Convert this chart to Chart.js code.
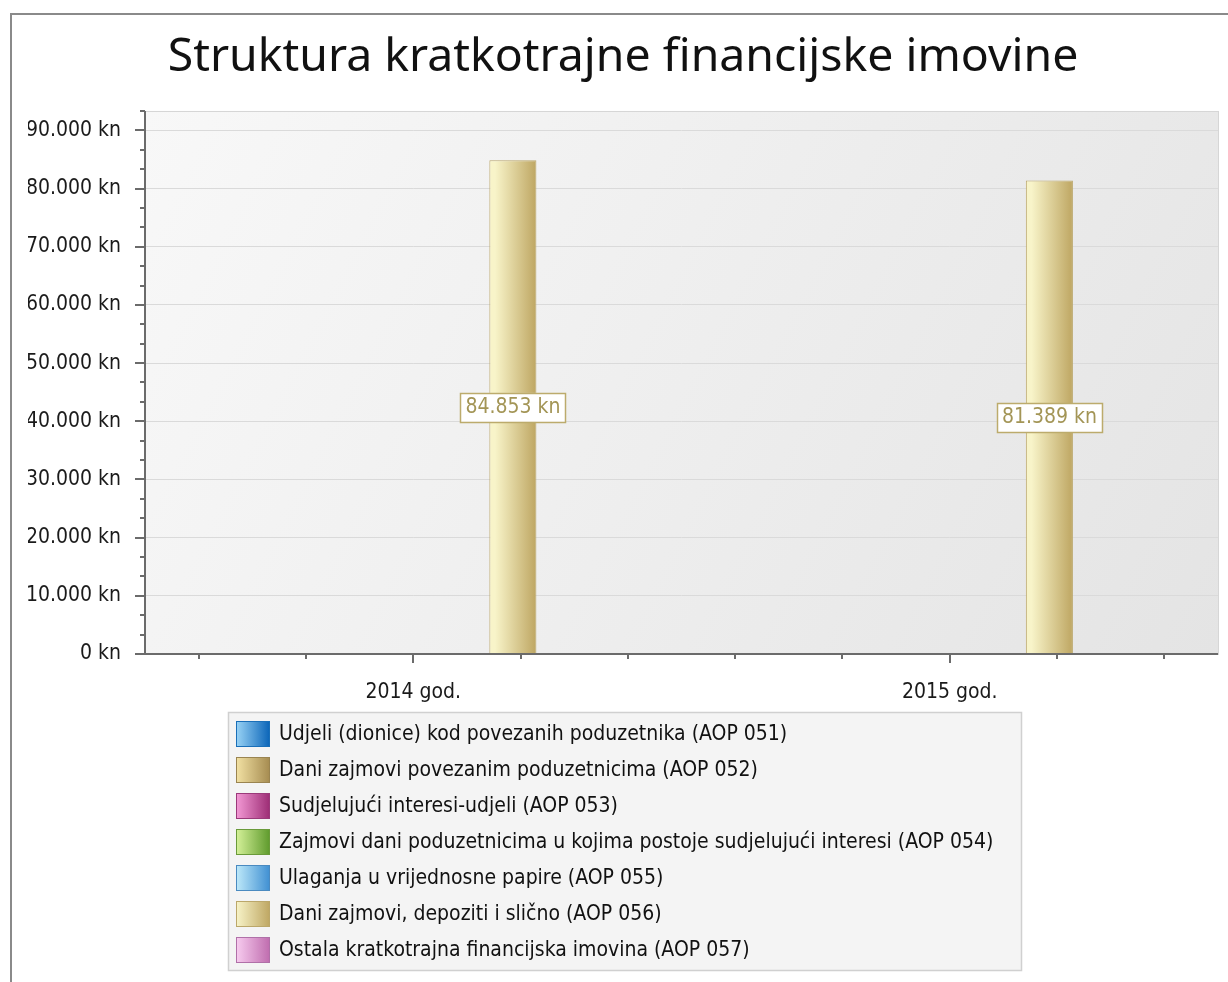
<!DOCTYPE html>
<html>
<head>
<meta charset="utf-8">
<script src="https://cdn.jsdelivr.net/npm/chart.js@4/dist/chart.umd.min.js"></script>
<style>
  html, body { margin: 0; padding: 0; background: #fff; }
  #wrap { width: 1228px; height: 982px; }
</style>
</head>
<body>
<div id="wrap"><canvas id="struktura" width="1228" height="982"></canvas></div>
<script>
// categories and series
var categories = ['2014 god.', '2015 god.'];
var seriesNames = [
  'Udjeli (dionice) kod povezanih poduzetnika (AOP 051)',
  'Dani zajmovi povezanim poduzetnicima (AOP 052)',
  'Sudjelujući interesi-udjeli (AOP 053)',
  'Zajmovi dani poduzetnicima u kojima postoje sudjelujući interesi (AOP 054)',
  'Ulaganja u vrijednosne papire (AOP 055)',
  'Dani zajmovi, depoziti i slično (AOP 056)',
  'Ostala kratkotrajna financijska imovina (AOP 057)'
];
var aop051 = [0, 0];
var aop052 = [0, 0];
var aop053 = [0, 0];
var aop054 = [0, 0];
var aop055 = [0, 0];
var aop056 = [84853, 81389];
var aop057 = [0, 0];
var yTicks = [0, 10000, 20000, 30000, 40000, 50000, 60000, 70000, 80000, 90000];

// light -> dark gradient stops per series
var seriesColors = [
  ['#9ad4f6', '#0a64b8'],
  ['#f3e2a4', '#a58b50'],
  ['#f49ad6', '#9c2c74'],
  ['#d6f29a', '#5e9a2c'],
  ['#bfeafa', '#3f8fd2'],
  ['#f8f4c9', '#bea662'],
  ['#f8cdf0', '#bf6cae']
];
var borderColors = ['#1a6fb8', '#9a8450', '#9a3a7a', '#6a9a3a', '#4a8ac0', '#bba76a', '#b070a8'];

var CAT_PCT = 0.65, BAR_PCT = 0.945;
var labelFont = "21px 'DejaVu Sans Condensed', 'Liberation Sans', sans-serif";

function fmt(n) {
  return String(Math.round(n)).replace(/\B(?=(\d{3})+(?!\d))/g, '.');
}

function barFill(ctx) {
  var chart = ctx.chart;
  var stops = seriesColors[ctx.datasetIndex];
  var xs = chart.scales.x;
  if (!chart.chartArea || !xs || ctx.dataIndex === undefined) return stops[1];
  var cw = xs.width / categories.length;
  var slot = cw * CAT_PCT / seriesNames.length;
  var cx = xs.getPixelForValue(ctx.dataIndex) + (ctx.datasetIndex - (seriesNames.length - 1) / 2) * slot;
  var half = slot * BAR_PCT / 2;
  var g = chart.ctx.createLinearGradient(cx - half, 0, cx + half, 0);
  g.addColorStop(0, stops[0]);
  g.addColorStop(0.12, stops[0]);
  g.addColorStop(1, stops[1]);
  return g;
}

var values = [aop051, aop052, aop053, aop054, aop055, aop056, aop057];
var datasets = [];
for (var i = 0; i < seriesNames.length; i++) {
  datasets.push({
    label: seriesNames[i],
    data: values[i],
    backgroundColor: barFill,
    borderColor: borderColors[i],
    borderWidth: 1,
    borderSkipped: 'bottom'
  });
}

var decor = {
  id: 'decor',
  beforeDraw: function(chart) {
    var c = chart.ctx, a = chart.chartArea;
    c.save();
    // outer frame
    c.strokeStyle = '#8a8a8a';
    c.lineWidth = 2;
    c.strokeRect(11, 14, 1240, 1000);
    // plot background
    var g = c.createLinearGradient(a.left, a.top, a.right, a.bottom);
    g.addColorStop(0, '#f8f8f8');
    g.addColorStop(1, '#e4e4e4');
    c.fillStyle = g;
    c.fillRect(a.left, a.top, a.right - a.left, a.bottom - a.top);
    c.strokeStyle = '#d6d6d6';
    c.lineWidth = 1;
    c.strokeRect(a.left + 0.5, a.top + 0.5, a.right - a.left, a.bottom - a.top);
    c.restore();
  },
  afterDatasetsDraw: function(chart) {
    var c = chart.ctx, a = chart.chartArea;
    var ys = chart.scales.y, xs = chart.scales.x;
    c.save();
    // axes
    c.strokeStyle = '#6b6b6b';
    c.lineWidth = 2;
    c.beginPath();
    c.moveTo(a.left, a.top);
    c.lineTo(a.left, a.bottom);
    c.moveTo(a.left - 10, a.bottom);
    c.lineTo(a.right, a.bottom);
    // y ticks, major every 10000, minor every third of that
    var step = 10000 / 3;
    for (var k = 0; k * step <= ys.max + 1; k++) {
      var y = Math.round(ys.getPixelForValue(k * step));
      var len = (k % 3 === 0) ? 10 : 5;
      c.moveTo(a.left - len, y);
      c.lineTo(a.left, y);
    }
    // x ticks: category centres plus fifths of a category
    var cw = xs.width / categories.length;
    for (var ci = 0; ci < categories.length; ci++) {
      var cx = xs.getPixelForValue(ci);
      for (var m = -2; m <= 2; m++) {
        var x = Math.round(cx + m * cw / 5);
        if (x <= a.left + 2 || x >= a.right - 2) continue;
        var tl = m === 0 ? 9 : 5;
        c.moveTo(x, a.bottom);
        c.lineTo(x, a.bottom + tl);
      }
    }
    c.stroke();

    // value labels in the middle of the bars
    c.font = labelFont;
    c.textAlign = 'center';
    c.textBaseline = 'middle';
    chart.data.datasets.forEach(function(ds, di) {
      var meta = chart.getDatasetMeta(di);
      meta.data.forEach(function(el, idx) {
        var v = ds.data[idx];
        if (!v) return;
        var txt = fmt(v) + ' kn';
        var w = c.measureText(txt).width + 10;
        var my = (el.y + el.base) / 2;
        c.fillStyle = '#ffffff';
        c.fillRect(el.x - w / 2, my - 14, w, 29);
        c.strokeStyle = '#bcab6c';
        c.lineWidth = 1.5;
        c.strokeRect(Math.round(el.x - w / 2) + 0.5, Math.round(my - 14) + 0.5, Math.round(w), 29);
        c.fillStyle = '#a39556';
        c.fillText(txt, el.x, my + 1);
      });
    });
    c.restore();
  },
  afterDraw: function(chart) {
    var c = chart.ctx;
    c.save();
    var bx = 228, by = 712, bw = 793, bh = 258;
    c.fillStyle = '#f4f4f4';
    c.fillRect(bx, by, bw, bh);
    c.strokeStyle = '#d0d0d0';
    c.lineWidth = 1.5;
    c.strokeRect(bx + 0.5, by + 0.5, bw, bh);
    c.font = labelFont;
    c.textAlign = 'left';
    c.textBaseline = 'middle';
    seriesNames.forEach(function(name, i) {
      var cy = 734 + i * 36;
      var g = c.createLinearGradient(236, 0, 270, 0);
      g.addColorStop(0, seriesColors[i][0]);
      g.addColorStop(1, seriesColors[i][1]);
      c.fillStyle = g;
      c.fillRect(236, cy - 13, 34, 26);
      c.strokeStyle = borderColors[i];
      c.lineWidth = 1;
      c.strokeRect(236.5, cy - 12.5, 33, 25);
      c.fillStyle = '#111111';
      c.fillText(name, 279, cy + 1);
    });
    c.restore();
  }
};

new Chart(document.getElementById('struktura'), {
  type: 'bar',
  data: { labels: categories, datasets: datasets },
  plugins: [decor],
  options: {
    responsive: false,
    animation: false,
    devicePixelRatio: 1,
    categoryPercentage: CAT_PCT,
    barPercentage: BAR_PCT,
    layout: { padding: { left: 28, right: 10, top: 0, bottom: 0 } },
    plugins: {
      legend: { display: false },
      tooltip: { enabled: false },
      title: {
        display: true,
        text: 'Struktura kratkotrajne financijske imovine',
        color: '#111111',
        font: { family: "'Noto Sans', 'Open Sans', sans-serif", size: 46.4, weight: 'normal', lineHeight: 1.2 },
        padding: { top: 29.5, bottom: 25.8 }
      }
    },
    scales: {
      x: {
        grid: { display: false, drawTicks: false },
        border: { display: false },
        ticks: { color: '#1a1a1a', font: { family: "'DejaVu Sans Condensed', 'Liberation Sans', sans-serif", size: 21 }, padding: 26, maxRotation: 0 },
        afterFit: function(s) { s.height = 328; }
      },
      y: {
        min: 0,
        max: 280000 / 3,
        grid: { color: '#dadada', lineWidth: 1, drawTicks: false },
        border: { display: false },
        ticks: {
          color: '#1a1a1a',
          font: { family: "'DejaVu Sans Condensed', 'Liberation Sans', sans-serif", size: 21 },
          padding: 24,
          callback: function(v) { return fmt(v) + ' kn'; }
        },
        afterBuildTicks: function(s) { s.ticks = yTicks.map(function(v) { return { value: v }; }); },
        afterFit: function(s) { s.width = 117; }
      }
    }
  }
});
</script>
</body>
</html>
